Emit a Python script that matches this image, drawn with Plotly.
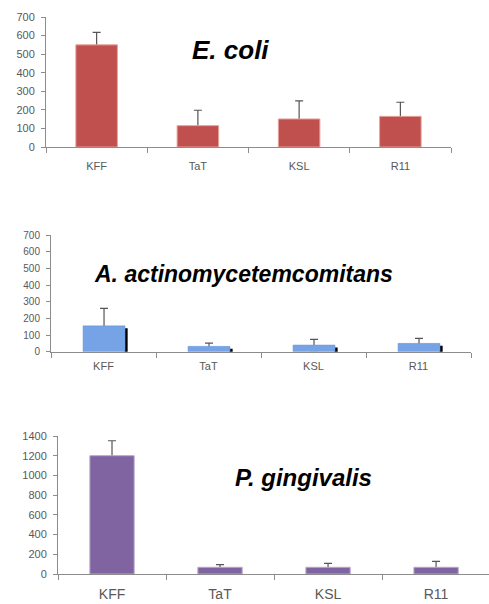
import plotly.graph_objects as go

categories = ["KFF", "TaT", "KSL", "R11"]

ecoli_values = [550, 115, 151, 165]
ecoli_errors = [67, 83, 97, 76]

aa_values = [155, 32, 40, 50]
aa_errors = [105, 20, 34, 30]

pg_values = [1200, 68, 68, 68]
pg_errors = [152, 27, 40, 61]

ecoli_ticks = [0, 100, 200, 300, 400, 500, 600, 700]
aa_ticks = [0, 100, 200, 300, 400, 500, 600, 700]
pg_ticks = [0, 200, 400, 600, 800, 1000, 1200, 1400]

W, H = 489, 604
FONT = "Liberation Sans, Arial, sans-serif"
AXIS_COL = "#8c8c8c"
LBL_COL = "#595959"
ERR_COL = "#555555"

def px_x(a, b):
    return [a / W, min(b / W, 1.0)]

def px_y(bottom, top):
    return [1 - bottom / H, 1 - top / H]

fig = go.Figure()

def err_trace(values, errors, xa, ya, width, offset=None):
    # transparent bar carrying symmetric error bars; the lower half is hidden by the real bar drawn on top
    kw = dict(offset=offset) if offset is not None else {}
    return go.Bar(x=categories, y=values, width=width,
                  marker=dict(color="rgba(0,0,0,0)", line=dict(width=0)),
                  error_y=dict(type="data", array=errors, color=ERR_COL,
                               thickness=1.2, width=4),
                  xaxis=xa, yaxis=ya, showlegend=False, hoverinfo="skip", **kw)

# Chart 1: E. coli
fig.add_trace(err_trace(ecoli_values, ecoli_errors, "x", "y", 0.41))
fig.add_trace(go.Bar(
    x=categories, y=ecoli_values, width=0.41,
    marker=dict(color="#c0504d", line=dict(color="#e6a09e", width=1)),
    xaxis="x", yaxis="y", showlegend=False))

# Chart 2: A. actinomycetemcomitans (shadow, error bars, then bar)
fig.add_trace(go.Bar(
    x=categories, y=aa_values, base=[-15] * 4, width=0.03, offset=0.2,
    marker=dict(color="#000000", line=dict(width=0)),
    xaxis="x2", yaxis="y2", showlegend=False, hoverinfo="skip"))
fig.add_trace(err_trace(aa_values, aa_errors, "x2", "y2", 0.4, -0.195))
fig.add_trace(go.Bar(
    x=categories, y=aa_values, width=0.4, offset=-0.195,
    marker=dict(color="#76a3e6", line=dict(color="#6a98dc", width=0.5)),
    xaxis="x2", yaxis="y2", showlegend=False))

# Chart 3: P. gingivalis
fig.add_trace(err_trace(pg_values, pg_errors, "x3", "y3", 0.41))
fig.add_trace(go.Bar(
    x=categories, y=pg_values, width=0.41,
    marker=dict(color="#8064a2", line=dict(color="#b7a6cc", width=1)),
    xaxis="x3", yaxis="y3", showlegend=False))

def xaxis(domain, anchor, size, standoff, rng=None):
    d = dict(domain=domain, anchor=anchor, showline=True, linecolor=AXIS_COL,
             linewidth=1, ticks="outside", tickson="boundaries", ticklen=5,
             tickcolor=AXIS_COL, tickfont=dict(family=FONT, size=size, color=LBL_COL),
             ticklabelstandoff=standoff, showgrid=False, zeroline=False,
             fixedrange=True, automargin=False)
    if rng is not None:
        d["range"] = rng
    return d

def yaxis(domain, anchor, rng, tickvals, size):
    return dict(domain=domain, anchor=anchor, range=rng, tickvals=tickvals,
                showline=True, linecolor=AXIS_COL, linewidth=1, ticks="outside",
                ticklen=4, tickcolor=AXIS_COL,
                tickfont=dict(family=FONT, size=size, color=LBL_COL),
                ticklabelstandoff=4, showgrid=False, zeroline=False,
                fixedrange=True, automargin=False)

def title(text, cx, cy, size):
    return dict(text=text, x=cx / W, y=1 - cy / H, xref="paper", yref="paper",
                xanchor="center", yanchor="middle", showarrow=False,
                font=dict(family=FONT, size=size, color="#000000"))

fig.update_layout(
    width=W, height=H, margin=dict(l=0, r=0, t=0, b=0, autoexpand=False),
    paper_bgcolor="white", plot_bgcolor="white", barmode="overlay",
    hovermode=False,
    xaxis=xaxis(px_x(46, 451), "y", 11, 9, [-0.5, 3.5]),
    yaxis=yaxis(px_y(147, 17), "x", [0, 700], ecoli_ticks, 11),
    xaxis2=xaxis(px_x(51, 471), "y2", 11, 4, [-0.5, 3.5]),
    yaxis2=yaxis(px_y(351.7, 235), "x2", [0, 700], aa_ticks, 10),
    xaxis3=xaxis(px_x(58, 489), "y3", 14, 7, [-0.5, 3.49]),
    yaxis3=yaxis(px_y(574, 436), "x3", [0, 1400], pg_ticks, 11),
    annotations=[
        title("<b><i>E. coli</i></b>", 230, 50, 26),
        title("<b><i>A. actinomycetemcomitans</i></b>", 243, 274, 23),
        title("<b><i>P. gingivalis</i></b>", 303, 477, 24),
    ],
)

fig.write_html("out.html", config={"displayModeBar": False},
               post_script="document.body.style.margin='0px';document.body.style.padding='0px';")
